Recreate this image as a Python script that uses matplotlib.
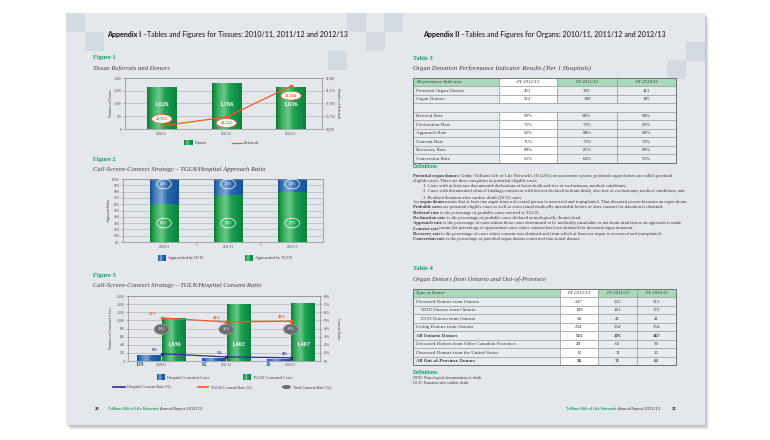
import numpy as np
import matplotlib.pyplot as plt
from matplotlib.patches import Rectangle, Ellipse
from matplotlib.colors import LinearSegmentedColormap

### Data ###

years = ['2010/11', '2011/12', '2012/13']

# Figure 1 - tissue referrals and donors
tissue_donors = [1626, 1766, 1636]
tissue_referrals = [10923, 13522, 22584]

# Figure 2 - approach ratio (%)
approach_tgln = [60, 74, 79]
approach_hcp = [40, 26, 21]

# Figure 3 - consent ratio
hosp_cases = [139, 62, 36]
tgln_cases = [1036, 1402, 1407]
hosp_rate = [9, 5, 4]
tgln_rate = [53, 48, 49]
total_rate = [33, 35, 38]

# Table 3
t3_header = ['Performance Indicator', 'FY 2012/13', 'FY 2011/12', 'FY 2010/11']
t3_labels = ['Potential Organ Donors', 'Organ Donors', '', 'Referral Rate', 'Declaration Rate',
             'Approach Rate', 'Consent Rate', 'Recovery Rate', 'Conversion Rate']
t3_values = [['451', '392', '413'], ['212', '189', '185'], None,
             ['99%', '98%', '98%'], ['75%', '73%', '69%'], ['92%', '88%', '80%'],
             ['71%', '73%', '74%'], ['89%', '85%', '89%'], ['63%', '60%', '55%']]

# Table 4
t4_header = ['Type of Donor', 'FY 2012/13', 'FY 2011/12', 'FY 2010/11']
t4_labels = ['Deceased Donors from Ontario', 'NDD Donors from Ontario', 'DCD Donors from Ontario',
             'Living Donors from Ontario', 'All Ontario Donors',
             'Deceased Donors from Other Canadian Provinces', 'Deceased Donors from the United States',
             'All Out-of-Province Donors']
t4_values = [['247', '222', '213'], ['189', '181', '172'], ['58', '41', '41'], ['264', '254', '254'],
             ['511', '476', '467'], ['48', '60', '50'], ['10', '11', '12'], ['58', '71', '62']]
t4_bold = [4, 7]
t4_indent = [1, 2]

# definitions under table 3: list of parts (text, bold), indent flag
defs3 = [
    ([('Potential organ donors:', True), (" Under Trillium Gift of Life Network's (TGLN's) measurement system, potential organ donors are called potential", False)], 0),
    ([('eligible cases. There are three categories of potential eligible cases:', False)], 0),
    ([('1. Cases with at least one documented declaration of brain death and free of exclusionary medical conditions;', False)], 1),
    ([('2. Cases with documented clinical findings consistent with but not declared as brain death, also free of exclusionary medical conditions; and', False)], 1),
    ([('3. Realized donation after cardiac death (DCD) cases.', False)], 1),
    ([('An ', False), ('organ donor', True), (' means that at least one organ from a deceased person is recovered and transplanted. That deceased person becomes an organ donor.', False)], 0),
    ([('Probable cases', True), (' are potential eligible cases as well as cases found medically unsuitable before or after consent for donation is obtained.', False)], 0),
    ([('Referral rate', True), (' is the percentage of probable cases referred to TGLN.', False)], 0),
    ([('Declaration rate', True), (' is the percentage of probable cases declared neurologically (brain) dead.', False)], 0),
    ([('Approach rate', True), (' is the percentage of cases minus those cases determined to be medically unsuitable or not brain dead before an approach is made.', False)], 0),
    ([('Consent rate', True), (' means the percentage of approached cases where consent has been obtained for deceased organ donation.', False)], 0),
    ([('Recovery rate', True), (' is the percentage of cases where consent was obtained and from which at least one organ is recovered and transplanted.', False)], 0),
    ([('Conversion rate', True), (' is the percentage of potential organ donors converted into actual donors.', False)], 0),
]
defs4 = ['NDD: Neurological determination of death', 'DCD: Donation after cardiac death']

### Style ###

SERIF = 'Liberation Serif'
SANS = 'Lato'
GREEN_TXT = '#17a05d'
ORANGE = '#f15a29'
NAVY = '#2e3092'
BLUE = '#1d5fa9'
TXT = '#3a3a3a'
PAGE = '#e4e7eb'
SQUARE = '#d3dae2'
HDR_GREEN = '#a9dab8'
CELL = '#e9ecef'
LINE = '#8d9297'
TICK_FS = 2.4

green_cm = LinearSegmentedColormap.from_list('g', ['#0b7a37', '#3cb065', '#6cc88a', '#22a152', '#10924a', '#0b823f'])
blue_cm = LinearSegmentedColormap.from_list('b', ['#164f8f', '#4f86c0', '#79a6d6', '#2a69ae', '#1d5ca3', '#164f93'])

plt.rcParams['font.family'] = SERIF

W, H = 770, 440
fig = plt.figure(figsize=(7.7, 4.4), dpi=100)
fig.patch.set_facecolor('white')
bg = fig.add_axes([0, 0, 1, 1])
bg.set_axis_off()


def px_axes(x0, y0, x1, y1):
    ax = fig.add_axes([x0 / W, 1 - y1 / H, (x1 - x0) / W, (y1 - y0) / H])
    ax.set_facecolor('none')
    for s in ax.spines.values():
        s.set_color('#8a8a8a')
        s.set_linewidth(0.5)
    ax.tick_params(labelsize=TICK_FS, length=1.5, width=0.4, colors='#8a8a8a', labelcolor='#444444', pad=1)
    return ax


def put(x, y, s, size=3, family=SERIF, ha='left', va='center', color=TXT, **kw):
    return bg.text(x, y, s, fontsize=size, family=family, ha=ha, va=va, color=color, **kw)


def put_parts(x, y, parts, size, family=SERIF, color=TXT):
    # parts : list of (text, bold) or (text, bold, colour) glued one after the other
    t = None
    for p in parts:
        s, bold = p[0], p[1]
        col = p[2] if len(p) > 2 else color
        w = 'bold' if bold else 'normal'
        if t is None:
            t = put(x, y, s, size, family, color=col, fontweight=w)
        else:
            t = bg.annotate(s, xy=(1, 0), xycoords=t, ha='left', va='bottom', fontsize=size,
                            family=family, color=col, fontweight=w)
    return t


def gradient_bars(ax, bars, cmap):
    grad = np.linspace(0, 1, 128).reshape(1, -1)
    for b in bars:
        x0, y0 = b.get_x(), b.get_y()
        ax.imshow(grad, cmap=cmap, aspect='auto', interpolation='bilinear', zorder=2.1,
                  extent=(x0, x0 + b.get_width(), y0, y0 + b.get_height()))


def swatch(x, y, w, h, cmap):
    grad = np.linspace(0, 1, 64).reshape(1, -1)
    bg.imshow(grad, cmap=cmap, aspect='auto', extent=(x, x + w, y + h, y), zorder=3)


### Pages ###

for k in range(5):
    bg.add_patch(Rectangle((66 + 1 + k * 0.7, 13 + 1.5 + k * 0.7), 639, 412, fc='black', alpha=0.05, lw=0, zorder=0.5))
bg.add_patch(Rectangle((66, 13), 639, 412, fc=PAGE, lw=0, zorder=1))
for sx, sy in [(66, 13), (85, 32), (347, 13), (366, 32), (384, 13), (328, 51), (686, 42), (667, 60)]:
    bg.add_patch(Rectangle((sx, sy), 19, 19, fc=SQUARE, lw=0, zorder=1.1))

put_parts(107, 34, [('Appendix I', True), (' \u2013Tables and Figures for Tissues: 2010/11, 2011/12 and 2012/13', False)], 5.1, SANS, '#111111')
put_parts(423, 34, [('Appendix II', True), (' \u2013Tables and Figures for Organs: 2010/11, 2011/12 and 2012/13', False)], 5.1, SANS, '#111111')

### Figure 1 ###

put(93, 58, 'Figure 1', 4.6, color=GREEN_TXT, fontweight='bold')
put(93, 68, 'Tissue Referrals and Donors', 4.8, style='italic')

x = np.arange(len(years))
ax1 = px_axes(125, 78, 322, 129)
ax1.grid(axis='y', color='#a5a5a5', lw=0.4)
ax1.set_axisbelow(True)
bars = ax1.bar(x, tissue_donors, width=0.46, color='#109a48', zorder=2)
gradient_bars(ax1, bars, green_cm)
for i, v in enumerate(tissue_donors):
    ax1.text(i, 1000, f'{v:,}', ha='center', va='center', color='white', fontsize=4.6, fontweight='bold', zorder=5)
ax1.set_xlim(-0.57, 2.48)
ax1.set_ylim(0, 2000)
ax1.set_yticks(range(0, 2001, 500))
ax1.set_yticklabels([f'{v:,}' for v in range(0, 2001, 500)])
ax1.set_xticks(x)
ax1.set_xticklabels(years)
ax1.tick_params(axis='x', length=0, pad=2)

ax1r = ax1.twinx()
ax1r.plot(x, tissue_referrals, color=ORANGE, lw=0.9, marker='s', ms=2, zorder=4)
ax1r.set_ylim(10000, 25000)
rt = np.linspace(10000, 25000, 5)
ax1r.set_yticks(rt)
ax1r.set_yticklabels([f'{int(v):,}' for v in rt])
ax1r.tick_params(labelsize=TICK_FS, length=1.5, width=0.4, colors='#8a8a8a', labelcolor='#444444', pad=1)
for s in ax1r.spines.values():
    s.set_visible(False)
for i, (v, dy) in enumerate(zip(tissue_referrals, [5, -4.3, -6.8])):
    ax1r.annotate(f'{v:,}', (i, v), xytext=(0, dy), textcoords='offset points', ha='center', va='center',
                  fontsize=3.2, fontweight='bold', color=ORANGE, zorder=6,
                  bbox=dict(boxstyle='ellipse,pad=0.25', fc='white', ec=ORANGE, lw=0.5))

put(111, 103.5, 'Number of Donors', 2.6, ha='center', rotation=90)
put(338, 103.5, 'Number of Referrals', 2.6, ha='center', rotation=270)

swatch(184, 140.5, 9, 5, green_cm)
put(195, 143, 'Donors', 3.0)
bg.plot([232, 242], [143, 143], color=ORANGE, lw=0.9, zorder=3)
put(244, 143, 'Referrals', 3.0)

### Figure 2 ###

put(93, 159, 'Figure 2', 4.6, color=GREEN_TXT, fontweight='bold')
put(93, 169, 'Call-Screen-Connect Strategy \u2013 TGLN/Hospital Approach Ratio', 4.8, style='italic')

ax2 = px_axes(123, 179, 323, 242)
ax2.grid(axis='y', color='#a5a5a5', lw=0.4)
ax2.set_axisbelow(True)
b_t = ax2.bar(x, approach_tgln, width=0.45, color='#109a48', zorder=2)
b_h = ax2.bar(x, approach_hcp, width=0.45, bottom=approach_tgln, color=BLUE, zorder=2)
gradient_bars(ax2, b_t, green_cm)
gradient_bars(ax2, b_h, blue_cm)
ell = dict(boxstyle='ellipse,pad=0.35', fc='none', ec='white', lw=0.5)
for i in x:
    ax2.text(i, 30, f'{approach_tgln[i]}%', ha='center', va='center', color='white', fontsize=3.0, zorder=6, bbox=ell)
    ax2.text(i, 92, f'{approach_hcp[i]}%', ha='center', va='center', color='white', fontsize=3.0, zorder=6, bbox=ell)
ax2.set_xlim(-0.64, 2.48)
ax2.set_ylim(0, 100)
ax2.set_yticks(range(0, 101, 10))
ax2.set_yticklabels([f'{v}%' for v in range(0, 101, 10)])
ax2.set_xticks(x)
ax2.set_xticklabels(years)
ax2.set_xticks([0.5, 1.5], minor=True)
ax2.tick_params(axis='x', which='major', length=0, pad=2.5)
ax2.tick_params(axis='x', which='minor', length=2, width=0.4, colors='#8a8a8a')

put(109, 210.5, 'Approach Ratio', 2.6, ha='center', rotation=90)
swatch(158, 255.5, 8, 5.5, blue_cm)
put(168, 258.5, 'Approached by HCPs', 3.0)
swatch(245, 255.5, 8, 5.5, green_cm)
put(255, 258.5, 'Approached by TGLN', 3.0)

### Figure 3 ###

put(93, 276, 'Figure 3', 4.6, color=GREEN_TXT, fontweight='bold')
put(93, 286, 'Call-Screen-Connect Strategy \u2013 TGLN/Hospital Consent Ratio', 4.8, style='italic')

ax3 = px_axes(128, 296, 320, 361)
ax3.grid(axis='y', color='#a5a5a5', lw=0.4)
ax3.set_axisbelow(True)
b_hc = ax3.bar(x - 0.19, hosp_cases, width=0.37, color=BLUE, zorder=2)
b_tc = ax3.bar(x + 0.19, tgln_cases, width=0.37, color='#109a48', zorder=2)
gradient_bars(ax3, b_hc, blue_cm)
gradient_bars(ax3, b_tc, green_cm)
for i in x:
    ax3.text(i + 0.19, 420, f'{tgln_cases[i]:,}', ha='center', va='center', color='white',
             fontsize=4.4, fontweight='bold', zorder=6)
    ax3.annotate(f'{hosp_cases[i]}', (i - 0.19, 0), xytext=(-7, -2.6), textcoords='offset points',
                 ha='center', va='center', color=BLUE, fontsize=4.0, fontweight='bold', annotation_clip=False)
ax3.set_xlim(-0.52, 2.45)
ax3.set_ylim(0, 1600)
ax3.set_yticks(range(0, 1601, 200))
ax3.set_yticklabels([f'{v:,}' for v in range(0, 1601, 200)])
ax3.set_xticks(x)
ax3.set_xticklabels(years)
ax3.tick_params(axis='x', length=0, pad=1.5)

ax3r = ax3.twinx()
ax3r.plot(x, tgln_rate, color=ORANGE, lw=0.9, marker='s', ms=2, zorder=4)
ax3r.plot(x, hosp_rate, color=NAVY, lw=0.9, marker='s', ms=2, zorder=4)
ax3r.set_ylim(0, 80)
ax3r.set_yticks(range(0, 81, 10))
ax3r.set_yticklabels([f'{v}%' for v in range(0, 81, 10)])
ax3r.tick_params(labelsize=TICK_FS, length=1.5, width=0.4, colors='#8a8a8a', labelcolor='#444444', pad=1)
for s in ax3r.spines.values():
    s.set_visible(False)
for i in x:
    ax3r.annotate(f'{tgln_rate[i]}%', (i, tgln_rate[i]), xytext=(-6.5, 3), textcoords='offset points',
                  ha='center', va='center', color=ORANGE, fontsize=3.0, fontweight='bold')
    ax3r.annotate(f'{hosp_rate[i]}%', (i, hosp_rate[i]), xytext=(-4.5, 2.8), textcoords='offset points',
                  ha='center', va='center', color=NAVY, fontsize=3.0, fontweight='bold')
    # total consent rate bubbles sit on one common level
    ax3r.text(i, 39, f'{total_rate[i]}%', ha='center', va='center', color='white', fontsize=2.9, zorder=6,
              bbox=dict(boxstyle='ellipse,pad=0.4', fc='#6b6d70', ec='#a0a0a0', lw=0.5))

put(111, 328.5, 'Number of Consented Cases', 2.6, ha='center', rotation=90)
put(338, 328.5, 'Consent Ratio', 2.6, ha='center', rotation=270)

swatch(157, 375, 8, 5.5, blue_cm)
put(167, 378, 'Hospital Consented Cases', 3.0)
swatch(243, 375, 8, 5.5, green_cm)
put(253, 378, 'TGLN Consented Cases', 3.0)
bg.plot([113, 125], [387, 387], color=NAVY, lw=1.2, zorder=3)
put(127, 387, 'Hospital Consent Rate (%)', 3.0)
bg.plot([198, 208], [387, 387], color=ORANGE, lw=1.2, zorder=3)
put(211, 387, 'TGLN Consent Rate (%)', 3.0)
bg.add_patch(Ellipse((286.5, 387), 9, 4, fc='#6b6d70', lw=0, zorder=3))
put(293, 387, 'Total Consent Rate (%)', 3.0)

footer = [('Trillium Gift of Life Network', True, GREEN_TXT), (' Annual Report 2012/13', False, '#333333')]
put(95, 409, '20', 3.0, SANS, fontweight='bold', color='#222222')
put_parts(108, 409, footer, 2.9, SANS)


### Tables ###

def draw_table(xs, y0, rh, header, labels, values, bold=(), indent=()):
    fs = 3.6
    for c in range(4):
        fc = 'white' if c == 1 else HDR_GREEN
        bg.add_patch(Rectangle((xs[c], y0), xs[c + 1] - xs[c], rh, fc=fc, ec=LINE, lw=0.4, zorder=3))
        if c == 0:
            put(xs[0] + 3, y0 + rh / 2, header[0], fs, style='italic', zorder=4)
        else:
            put((xs[c] + xs[c + 1]) / 2, y0 + rh / 2, header[c], fs, ha='center', style='italic', zorder=4)
    for r, lab in enumerate(labels):
        y = y0 + rh * (r + 1)
        if values[r] is None:
            bg.add_patch(Rectangle((xs[0], y), xs[-1] - xs[0], rh, fc=CELL, ec=LINE, lw=0.4, zorder=3))
            continue
        w = 'bold' if r in bold else 'normal'
        for c in range(4):
            fc = 'white' if c == 1 else CELL
            bg.add_patch(Rectangle((xs[c], y), xs[c + 1] - xs[c], rh, fc=fc, ec=LINE, lw=0.4, zorder=3))
        dx = 8 if r in indent else 3
        put(xs[0] + dx, y + rh / 2, lab, fs, fontweight=w, zorder=4)
        for c in range(3):
            put((xs[c + 1] + xs[c + 2]) / 2, y + rh / 2, values[r][c], fs, ha='center', fontweight=w, zorder=4)
    n = len(labels) + 1
    bg.add_patch(Rectangle((xs[0], y0), xs[-1] - xs[0], rh * n, fc='none', ec='#6e7378', lw=0.7, zorder=5))


put(413, 58, 'Table 3', 4.6, color=GREEN_TXT, fontweight='bold')
put(413, 68, 'Organ Donation Performance Indicator Results (Tier 1 Hospitals)', 4.8, style='italic')
draw_table([413, 499, 557, 617, 676], 78, 8.5, t3_header, t3_labels, t3_values)

put(413, 166, 'Definitions', 4.0, color=GREEN_TXT, fontweight='bold')
for k, (parts, ind) in enumerate(defs3):
    put_parts(413 + 10 * ind, 175.5 + 5.3 * k, parts, 3.35)

put(413, 269, 'Table 4', 4.6, color=GREEN_TXT, fontweight='bold')
put(413, 279, 'Organ Donors from Ontario and Out-of-Province', 4.8, style='italic')
draw_table([413, 560, 598, 637, 676], 289, 8.5, t4_header, t4_labels, t4_values, bold=t4_bold, indent=t4_indent)

put(413, 372, 'Definitions', 4.0, color=GREEN_TXT, fontweight='bold')
for k, s in enumerate(defs4):
    put(413, 378 + 5.3 * k, s, 2.9)

put_parts(566, 409, footer, 2.9, SANS)
put(672, 409, '21', 3.0, SANS, fontweight='bold', color='#222222')

bg.set_xlim(0, W)
bg.set_ylim(H, 0)

fig.savefig('out.png', dpi=100, facecolor='white')
